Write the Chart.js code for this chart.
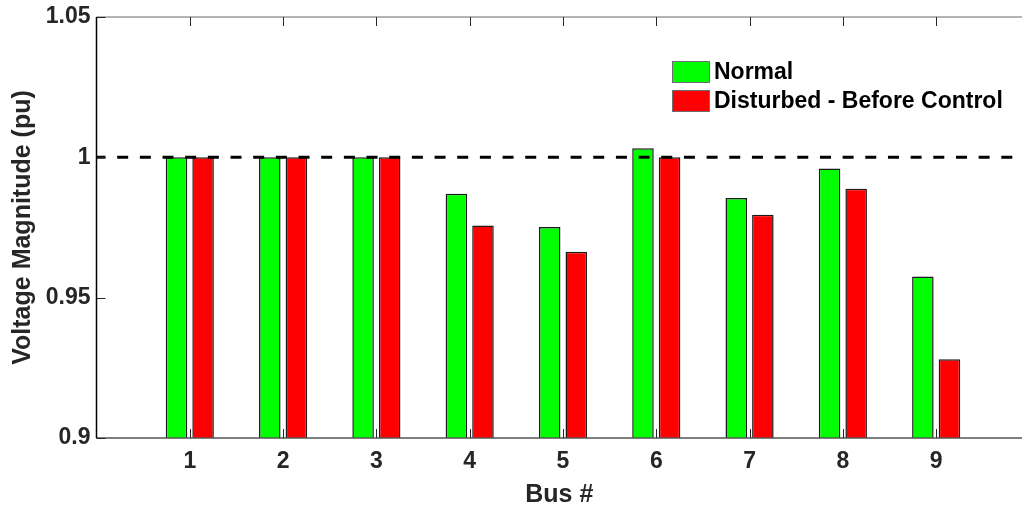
<!DOCTYPE html>
<html>
<head>
<meta charset="utf-8">
<script src="https://cdn.jsdelivr.net/npm/chart.js@4/dist/chart.umd.min.js"></script>
<style>
  html, body { margin: 0; padding: 0; background: #fff; overflow: hidden; }
  #wrap { width: 1022px; height: 510px; position: relative; }
</style>
</head>
<body>
<div id="wrap"><canvas id="c"></canvas></div>
<script>
// Bus voltage magnitudes (pu)
const buses = [1, 2, 3, 4, 5, 6, 7, 8, 9];
const normalV = [1.0, 1.0, 1.0, 0.987, 0.9752, 1.0032, 0.9855, 0.9960, 0.9575];
const disturbedV = [1.0, 1.0, 1.0, 0.9757, 0.9664, 1.0, 0.9795, 0.9888, 0.9281];
const seriesNames = ['Normal', 'Disturbed - Before Control'];
const seriesColors = ['#00ff00', '#ff0000'];
const yTicks = [0.9, 0.95, 1, 1.05];
const yTickLabels = ['0.9', '0.95', '1', '1.05'];
const nominalV = 1.0;
const xRange = [0, 9.92];

const FONT = '"Liberation Sans", Arial, Helvetica, sans-serif';
const AXIS_COLOR = '#262626';

// Box outline, inward tick marks and legend, MATLAB-style
const axesDecor = {
  id: 'axesDecor',
  afterDraw(chart) {
    const { ctx, chartArea: a, scales: { x, y } } = chart;
    ctx.save();
    // top border
    ctx.strokeStyle = '#b4b4b4';
    ctx.lineWidth = 2;
    ctx.beginPath();
    ctx.moveTo(a.left, a.top);
    ctx.lineTo(a.right, a.top);
    ctx.stroke();
    // bottom border
    ctx.strokeStyle = '#555';
    ctx.lineWidth = 1.5;
    ctx.beginPath();
    ctx.moveTo(a.left, a.bottom);
    ctx.lineTo(a.right, a.bottom);
    ctx.stroke();
    // inward ticks
    ctx.strokeStyle = AXIS_COLOR;
    ctx.lineWidth = 1;
    const tl = 9;
    buses.forEach(b => {
      const px = Math.round(x.getPixelForValue(b)) + 0.5;
      ctx.beginPath();
      ctx.moveTo(px, a.bottom); ctx.lineTo(px, a.bottom - tl);
      ctx.moveTo(px, a.top); ctx.lineTo(px, a.top + tl);
      ctx.stroke();
    });
    yTicks.forEach(v => {
      const py = Math.round(y.getPixelForValue(v)) + 0.5;
      ctx.beginPath();
      ctx.moveTo(a.left, py); ctx.lineTo(a.left + tl, py);
      ctx.stroke();
    });
    // left axis line
    ctx.strokeStyle = '#000';
    ctx.lineWidth = 1.5;
    ctx.beginPath();
    ctx.moveTo(a.left, a.top);
    ctx.lineTo(a.left, a.bottom);
    ctx.stroke();

    // legend
    const lx = 672, ly = 61, bw = 38, bh = 22, step = 29;
    ctx.font = 'bold 23px ' + FONT;
    ctx.textBaseline = 'middle';
    ctx.textAlign = 'left';
    seriesNames.forEach((name, i) => {
      const yy = ly + i * step;
      ctx.fillStyle = seriesColors[i];
      ctx.fillRect(lx, yy, bw, bh);
      ctx.strokeStyle = '#6e6e6e';
      ctx.lineWidth = 1;
      ctx.strokeRect(lx + 0.5, yy + 0.5, bw - 1, bh - 1);
      ctx.fillStyle = '#000';
      ctx.fillText(name, lx + bw + 4, yy + bh / 2 + 1);
    });
    ctx.restore();
  }
};

const barStyle = (i) => ({
  backgroundColor: seriesColors[i],
  borderColor: '#1a1a1a',
  borderWidth: 1.5,
  borderSkipped: 'bottom',
  categoryPercentage: 0.57,
  barPercentage: 0.81,
  order: 1
});

new Chart(document.getElementById('c'), {
  type: 'bar',
  data: {
    datasets: [
      {
        type: 'line',
        label: 'nominal',
        data: [{ x: 0, y: nominalV }, { x: 10, y: nominalV }],
        borderColor: '#000',
        borderWidth: 3,
        borderDash: [11, 11.67],
        borderDashOffset: 2,
        pointRadius: 0,
        clip: 0,
        order: 0
      },
      Object.assign({ label: seriesNames[0], data: buses.map((b, i) => ({ x: b, y: normalV[i] })) }, barStyle(0)),
      Object.assign({ label: seriesNames[1], data: buses.map((b, i) => ({ x: b, y: disturbedV[i] })) }, barStyle(1))
    ]
  },
  options: {
    responsive: true,
    maintainAspectRatio: false,
    animation: false,
    layout: { padding: { top: 17, left: 0, right: 0, bottom: 0 } },
    plugins: { legend: { display: false }, tooltip: { enabled: false } },
    scales: {
      x: {
        type: 'linear',
        min: xRange[0],
        max: xRange[1],
        offset: false,
        afterBuildTicks: s => { s.ticks = buses.map(v => ({ value: v })); },
        afterFit: s => { s.height = 72; },
        grid: { display: false, drawTicks: false },
        border: { display: false },
        ticks: {
          padding: 10,
          color: AXIS_COLOR,
          font: { family: FONT, size: 23, weight: 'bold' },
          callback: v => String(v)
        },
        title: {
          display: true,
          text: 'Bus #',
          color: AXIS_COLOR,
          font: { family: FONT, size: 25, weight: 'bold' },
          padding: { top: 0, bottom: 0 }
        }
      },
      y: {
        min: yTicks[0],
        max: yTicks[yTicks.length - 1],
        afterBuildTicks: s => { s.ticks = yTicks.map(v => ({ value: v })); },
        afterFit: s => { s.width = 96.5; s.paddingTop = 0; s.paddingBottom = 0; },
        grid: { display: false, drawTicks: false },
        border: { display: false },
        ticks: {
          padding: 6,
          color: AXIS_COLOR,
          font: { family: FONT, size: 23, weight: 'bold' },
          callback: (v) => { const k = yTicks.findIndex(t => Math.abs(t - v) < 1e-9); return k >= 0 ? yTickLabels[k] : ''; }
        },
        title: {
          display: true,
          text: 'Voltage Magnitude (pu)',
          color: AXIS_COLOR,
          font: { family: FONT, size: 25, weight: 'bold' },
          padding: { top: 8, bottom: 0 }
        }
      }
    }
  },
  plugins: [axesDecor]
});
</script>
</body>
</html>
